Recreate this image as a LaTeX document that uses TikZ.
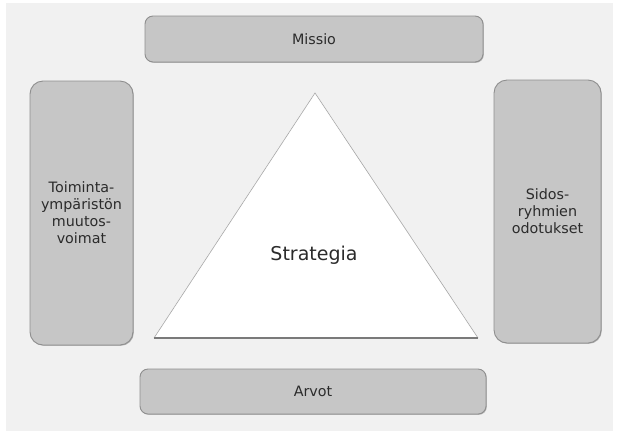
\documentclass[tikz,border=0pt]{standalone}
\usepackage{fontspec}
\setmainfont{DejaVu Sans}
\usetikzlibrary{shadows}
\definecolor{panel}{HTML}{F1F1F1}
\definecolor{boxfill}{HTML}{C6C6C6}
\definecolor{boxline}{HTML}{8E8E8E}
\definecolor{labeltext}{HTML}{2B2B2B}
\definecolor{edgegray}{HTML}{A8A8A8}
\definecolor{basegray}{HTML}{7A7A7A}
\tikzset{
  gbox/.style={draw=boxline, line width=0.9pt, fill=boxfill, rounded corners=#1,
    inner sep=0pt, align=center, text=labeltext,
    font=\fontsize{14.3}{17}\selectfont,
    drop shadow={shadow xshift=0.8pt, shadow yshift=-0.8pt, fill=black!45, opacity=0.6}},
  gbox/.default=8pt
}
\begin{document}
\begin{tikzpicture}[x=1pt, y=-1pt]
  % page and scanned panel
  \fill[white] (0,0) rectangle (617,432);
  \fill[panel] (6,3) rectangle (613,431);
  \useasboundingbox (0,0) rectangle (617,432);

  % top and bottom bars
  \node[gbox, minimum width=338pt, minimum height=46pt] (missio) at (314,39) {Missio};
  \node[gbox, minimum width=346pt, minimum height=45pt] (arvot) at (313,391.5) {Arvot};

  % side columns
  \node[gbox=13pt, minimum width=103pt, minimum height=264pt] (toim) at (81.5,213)
    {Toiminta-\\ympäristön\\muutos-\\voimat};
  \node[gbox=13pt, minimum width=107pt, minimum height=263pt] (sidos) at (547.5,211.5)
    {Sidos-\\ryhmien\\odotukset};

  % strategy triangle
  \coordinate (apex) at (315,93);
  \coordinate (bl) at (154,338);
  \coordinate (br) at (478,338);
  \fill[white] (apex) -- (br) -- (bl) -- cycle;
  \draw[edgegray, line width=0.6pt] (bl) -- (apex) -- (br);
  \draw[basegray, line width=1.4pt] (bl) -- (br);
  \node[text=labeltext, font=\fontsize{19}{22}\selectfont] (strat) at (314,255) {Strategia};
\end{tikzpicture}
\end{document}
